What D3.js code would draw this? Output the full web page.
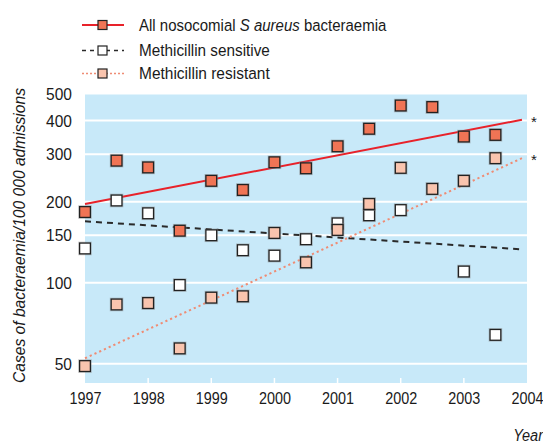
<!DOCTYPE html>
<html><head><meta charset="utf-8">
<script src="https://cdn.jsdelivr.net/npm/d3@7"></script>
<style>
body{margin:0;background:#fff;}
text{font-family:"Liberation Sans","Arial",sans-serif;fill:#1a1a1a;}
</style></head>
<body><svg id="c" width="543" height="443"></svg>
<script>
const years = [1997,1997.5,1998,1998.5,1999,1999.5,2000,2000.5,2001,2001.5,2002,2002.5,2003,2003.5];
const allCases = [183,284,268,156,239,221,280,266,321,373,455,449,349,354];
const sensitive = [134,202,181,98,150,132,126,145,166,178,186,null,110,64];
const resistant = [49,83,84,57,88,89,153,119,157,196,267,223,239,290];
const trendYears = [1997,2003.92];
const trendAll = [196,403];
const trendSens = [169,133];
const trendRes = [52.4,290];
const yTicks = [50,100,150,200,300,400,500];
const xTicks = [1997,1998,1999,2000,2001,2002,2003,2004];
const legendLabels = ["All nosocomial ","S aureus"," bacteraemia","Methicillin sensitive","Methicillin resistant"];

const svg = d3.select("#c");
const L=85,R=527,T=94.5,B=383;
const x = d3.scaleLinear().domain([1997,2004]).range([L,R]);
const y = d3.scaleLog().domain([42.4,500]).range([B,T]);
// horizontally condense a text so its width equals target
function fit(node, ax, target){
  const w = node.getBBox().width;
  const k = target/w;
  d3.select(node).attr("transform",`translate(${ax},0) scale(${k},1) translate(${-ax},0)`);
  return k;
}

svg.append("rect").attr("x",L).attr("y",T).attr("width",R-L).attr("height",B-T).attr("fill","#c8e9f9");
svg.append("g").selectAll("line").data(yTicks.filter(d=>d<500)).join("line")
  .attr("x1",L).attr("x2",R).attr("y1",d=>y(d)).attr("y2",d=>y(d))
  .attr("stroke","#fff").attr("stroke-width",2);
svg.append("g").selectAll("line").data(xTicks.slice(1,-1)).join("line")
  .attr("x1",d=>x(d)).attr("x2",d=>x(d)).attr("y1",B-5).attr("y2",B)
  .attr("stroke","#fff").attr("stroke-width",1.5);

// axes labels
const yAxis = d3.axisLeft(y).tickValues(yTicks).tickFormat(d3.format("d")).tickSize(0).tickPadding(13);
const gy = svg.append("g").attr("transform",`translate(${L},0)`).call(yAxis);
gy.select(".domain").remove();
gy.selectAll("text").attr("font-size",17).attr("fill","#1a1a1a").attr("font-family",null);
const ky = fit(gy.select(".tick text").node(), -13, 17.3); // "50"
gy.selectAll(".tick text").attr("transform",`translate(-13,0) scale(${ky},1) translate(13,0)`);
const xAxis = d3.axisBottom(x).tickValues(xTicks).tickFormat(d3.format("d")).tickSize(0).tickPadding(9);
const gx = svg.append("g").attr("transform",`translate(0,${B})`).call(xAxis);
gx.select(".domain").remove();
gx.selectAll(".tick text").attr("font-size",17).attr("fill","#1a1a1a").attr("font-family",null);
const kx = fit(gx.select(".tick text").node(), 0, 32);
gx.selectAll(".tick text").attr("transform",`scale(${kx},1)`);

svg.append("text").attr("transform","translate(25,235.5) rotate(-90)").attr("text-anchor","middle")
  .attr("font-size",17).attr("font-style","italic")
  .attr("textLength",295).attr("lengthAdjust","spacingAndGlyphs")
  .text("Cases of bacteraemia/100 000 admissions");
const yr = svg.append("text").attr("x",543).attr("y",441).attr("text-anchor","end")
  .attr("font-size",17).attr("font-style","italic").text("Year");
fit(yr.node(),543,31);

// trend lines
const line = d3.line().x(d=>x(d[0])).y(d=>y(d[1]));
const styles = [
  {vals:trendAll,stroke:"#e8222a",dash:null,ldash:null},
  {vals:trendSens,stroke:"#2a2a2a",dash:"6,5",ldash:"4,4"},
  {vals:trendRes,stroke:"#ef8c74",dash:"2.2,3",ldash:"2,2"}
];
styles.forEach(s=>{
  svg.append("path").datum(trendYears.map((t,i)=>[t,s.vals[i]])).attr("d",line)
    .attr("fill","none").attr("stroke",s.stroke).attr("stroke-width",2).attr("stroke-dasharray",s.dash);
});
// stars
svg.append("text").attr("x",534).attr("y",y(trendAll[1])+7).attr("text-anchor","middle").attr("font-size",15).text("*");
svg.append("text").attr("x",534).attr("y",y(trendRes[1])+7).attr("text-anchor","middle").attr("font-size",15).text("*");

// markers
const S=12;
function markers(vals,fill){
  const data = years.map((t,i)=>[t,vals[i]]).filter(d=>d[1]!=null);
  const g = svg.append("g");
  g.selectAll("rect.sh").data(data).join("rect")
    .attr("x",d=>x(d[0])-S/2-0.8).attr("y",d=>y(d[1])-S/2-0.8).attr("width",S+1.6).attr("height",S+1.6)
    .attr("fill","#8a8a8a").attr("opacity",0.45);
  g.selectAll("rect.m").data(data).join("rect")
    .attr("x",d=>x(d[0])-S/2+0.6).attr("y",d=>y(d[1])-S/2+0.6).attr("width",S-1.2).attr("height",S-1.2)
    .attr("fill",fill).attr("stroke","#222").attr("stroke-width",1.3);
}
markers(sensitive,"#ffffff");
markers(resistant,"#f9c4ae");
markers(allCases,"#f07455");

// legend
const legY=[25,50.5,73.5];
const lg = svg.append("g");
const fills=["#f07455","#ffffff","#f9c4ae"];
styles.forEach((s,i)=>{
  lg.append("line").attr("x1",82).attr("x2",124).attr("y1",legY[i]).attr("y2",legY[i])
    .attr("stroke",s.stroke).attr("stroke-width",i==0?2:1.6).attr("stroke-dasharray",s.ldash);
  lg.append("rect").attr("x",98).attr("y",legY[i]-4.5).attr("width",9).attr("height",9)
    .attr("fill",fills[i]).attr("stroke","#222").attr("stroke-width",1.2);
});
const t0 = lg.append("text").attr("x",139).attr("y",legY[0]+6).attr("font-size",17);
t0.append("tspan").text(legendLabels[0]);
t0.append("tspan").attr("font-style","italic").text(legendLabels[1]);
t0.append("tspan").text(legendLabels[2]);
const t1 = lg.append("text").attr("x",139).attr("y",legY[1]+6).attr("font-size",17).text(legendLabels[3]);
const t2 = lg.append("text").attr("x",139).attr("y",legY[2]+6).attr("font-size",17).text(legendLabels[4]);
fit(t0.node(),139,248);
fit(t1.node(),139,131);
fit(t2.node(),139,131);
</script></body></html>
